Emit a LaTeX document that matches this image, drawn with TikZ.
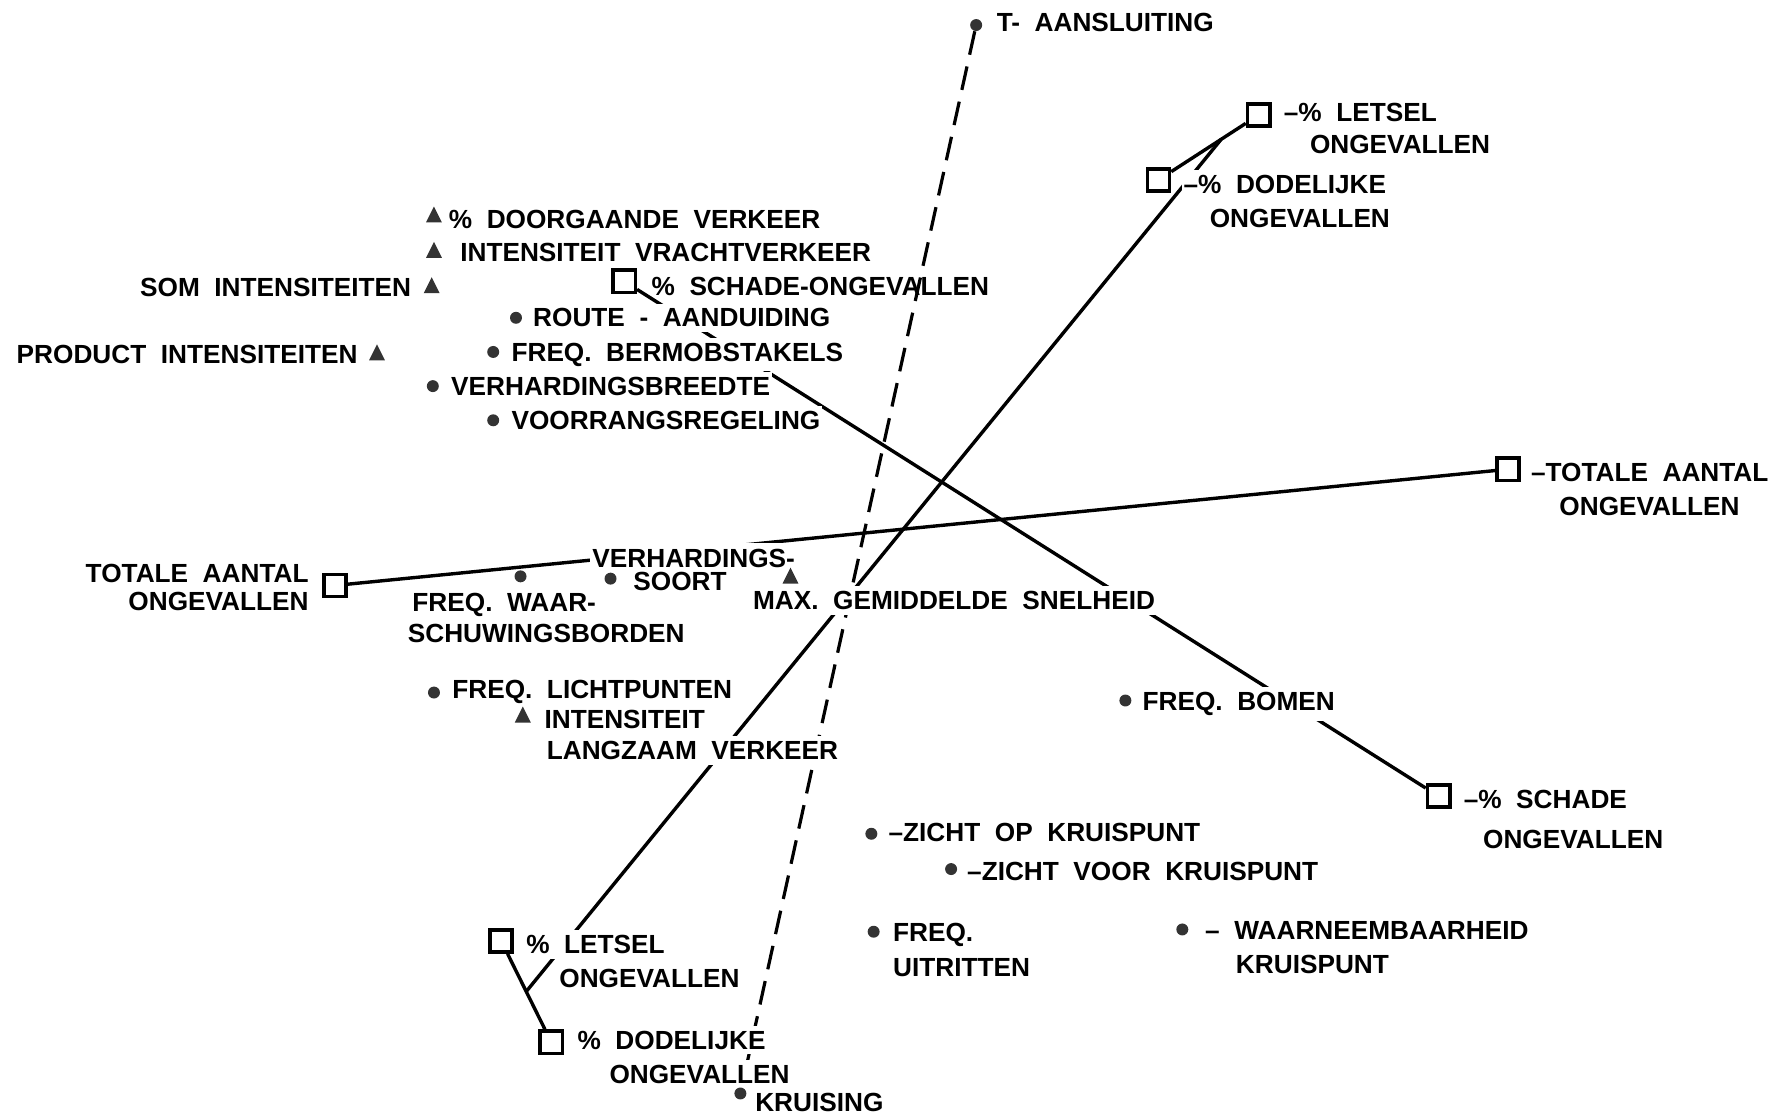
\documentclass[tikz,border=0pt]{standalone}
\usepackage{fontspec}
\setmainfont{Liberation Sans}[WordSpace=2]
\usetikzlibrary{shapes.geometric}
\usetikzlibrary{backgrounds}

\begin{document}
\begin{tikzpicture}[x=0.02cm,y=-0.02cm,
  font=\fontsize{13.1}{15}\selectfont\bfseries,
  punt/.style={circle,fill=black!80,inner sep=0pt,minimum size=0.21cm},
  vak/.style={rectangle,draw,line width=1.8pt,inner sep=0pt,minimum size=0.39cm},
  driehoek/.style={isosceles triangle,isosceles triangle stretches,shape border rotate=90,fill=black!80,inner sep=0pt,minimum width=0.28cm,minimum height=0.28cm},
  tekst/.style={anchor=base west,inner xsep=1pt,inner ysep=2.5pt,fill=white},
  lijn/.style={line width=1.7pt},
  stippel/.style={line width=1.6pt,dash pattern=on 12pt off 6pt}]
\useasboundingbox (0,0) rectangle (1568,980);
% labels
\node at (873,28)[tekst] (tTa) {T- AANSLUITING};
\node at (1125,107)[tekst] (tLe1) {--\% LETSEL};
\node at (1148,135)[tekst] (tLe1b) {ONGEVALLEN};
\node at (1037,170)[tekst] (tDo1) {--\% DODELIJKE};
\node at (1060,200)[tekst] (tDo1b) {ONGEVALLEN};
\node at (392,201)[tekst] (tDoor) {\% DOORGAANDE VERKEER};
\node at (402,230)[tekst] (tVracht) {INTENSITEIT VRACHTVERKEER};
\node at (363,260)[tekst,anchor=base east] (tSom) {SOM INTENSITEITEN};
\node at (570,259)[tekst,fill=none] (tSch) {\% SCHADE-ONGEVALLEN};
\node at (466,287)[tekst] (tRoute) {ROUTE - AANDUIDING};
\node at (316,319)[tekst,anchor=base east] (tProd) {PRODUCT INTENSITEITEN};
\node at (447,317)[tekst] (tBerm) {FREQ. BERMOBSTAKELS};
\node at (394,347)[tekst] (tBreed) {VERHARDINGSBREEDTE};
\node at (447,377)[tekst] (tVoor) {VOORRANGSREGELING};
\node at (1342,423)[tekst] (tTotR) {--TOTALE AANTAL};
\node at (1367,453)[tekst] (tTotRb) {ONGEVALLEN};
\node at (273,511)[tekst,anchor=base east] (tTotL) {TOTALE AANTAL};
\node at (273,536)[tekst,anchor=base east] (tTotLb) {ONGEVALLEN};
\node at (518,498)[tekst,inner ysep=0.1cm] (tSoort) {VERHARDINGS-};
\node at (554,518)[tekst,inner ysep=1pt] (tSoortb) {SOORT};
\node at (360,537)[tekst] (tWaar) {FREQ. WAAR-};
\node at (356,564)[tekst] (tWaarb) {SCHUWINGSBORDEN};
\node at (659,535)[tekst] (tMax) {MAX. GEMIDDELDE SNELHEID};
\node at (395,613)[tekst] (tLicht) {FREQ. LICHTPUNTEN};
\node at (476,640)[tekst] (tLang) {INTENSITEIT};
\node at (478,667)[tekst] (tLangb) {LANGZAAM VERKEER};
\node at (1001,624)[tekst] (tBomen) {FREQ. BOMEN};
\node at (1283,710)[tekst] (tSch2) {--\% SCHADE};
\node at (1300,745)[tekst] (tSch2b) {ONGEVALLEN};
\node at (778,739)[tekst] (tOp) {--ZICHT OP KRUISPUNT};
\node at (847,773)[tekst] (tVoorK) {--ZICHT VOOR KRUISPUNT};
\node at (782,827)[tekst] (tUit) {FREQ.};
\node at (782,857)[tekst] (tUitb) {UITRITTEN};
\node at (1056,825)[tekst] (tWaarn) {-- WAARNEEMBAARHEID};
\node at (1083,855)[tekst] (tWaarnb) {KRUISPUNT};
\node at (460,837)[tekst] (tLe2) {\% LETSEL};
\node at (489,867)[tekst] (tLe2b) {ONGEVALLEN};
\node at (505,921)[tekst] (tDo2) {\% DODELIJKE};
\node at (533,951)[tekst] (tDo2b) {ONGEVALLEN};
\node at (661,976)[tekst] (tKruis) {KRUISING};
% markers
\node at (857,22)[punt] (Ta) {};
\node at (1105,101)[vak] (Le1) {};
\node at (1017,158)[vak] (Do1) {};
\node at (381,191)[driehoek] (Door) {};
\node at (381,222)[driehoek] (Vracht) {};
\node at (379,253)[driehoek] (Som) {};
\node at (548,247)[vak] (Sch) {};
\node at (453,279)[punt] (Route) {};
\node at (331,312)[driehoek] (Prod) {};
\node at (433,309)[punt] (Berm) {};
\node at (380,339)[punt] (Breed) {};
\node at (433,369)[punt] (Voor) {};
\node at (1324,412)[vak] (TotR) {};
\node at (294,514)[vak] (TotL) {};
\node at (536,508)[punt] (Soort) {};
\node at (457,506)[punt] (Waar) {};
\node at (694,508)[driehoek] (Max) {};
\node at (381,608)[punt] (Licht) {};
\node at (459,630)[driehoek] (Lang) {};
\node at (988,615)[punt] (Bomen) {};
\node at (1263,699)[vak] (Sch2) {};
\node at (765,732)[punt] (Op) {};
\node at (835,763)[punt] (VoorK) {};
\node at (767,818)[punt] (Uit) {};
\node at (1038,816)[punt] (Waarn) {};
\node at (440,826)[vak] (Le2) {};
\node at (484,915)[vak] (Do2) {};
\node at (650,960)[punt] (Kruis) {};
% lines under the labels
\begin{pgfonlayer}{background}
\draw[stippel] (Ta) -- (Kruis);
\draw[lijn] (TotL) -- (TotR);
\draw[lijn] (Sch) -- (Sch2);
\draw[lijn] (Le1) -- coordinate[pos=0.33] (Le1j) (Do1);
\draw[lijn] (Le2) -- coordinate[midway] (Le2j) (Do2);
\draw[lijn] (Le1j) -- (Le2j);
\end{pgfonlayer}
\end{tikzpicture}
\end{document}
